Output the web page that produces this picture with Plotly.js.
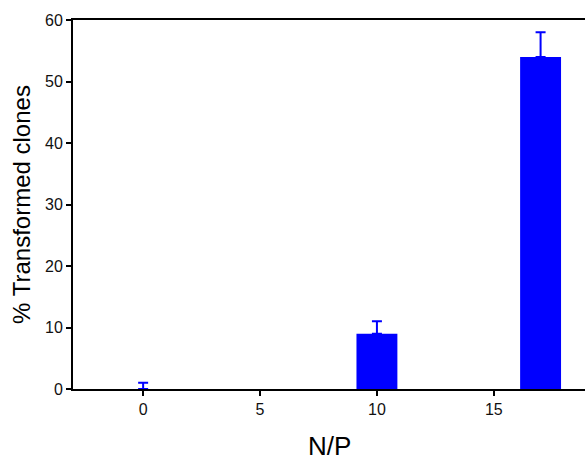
<!DOCTYPE html>
<html>
<head>
<meta charset="utf-8">
<script src="https://cdn.plot.ly/plotly-3.0.1.min.js"></script>
<style>html,body{margin:0;padding:0;background:#fff;}#chart{width:585px;height:456px;}</style>
</head>
<body>
<div id="chart"></div>
<script>
const npRatio = [0, 10, 17];
const transformed = [0, 9, 54];
const errorPlus = [1, 2, 4];
const xTickValues = [0, 5, 10, 15];
const xTickLabels = ['0', '5', '10', '15'];
const yTickValues = [0, 10, 20, 30, 40, 50, 60];
const xTitle = 'N/P';
const yTitle = '% Transformed clones';

const trace = {
  type: 'bar',
  x: npRatio,
  y: transformed,
  width: 1.75,
  marker: {color: '#0000FF', line: {width: 0}},
  error_y: {
    type: 'data', symmetric: false,
    array: errorPlus, arrayminus: [0, 0, 0],
    color: '#0000FF', thickness: 2, width: 5
  },
  hoverinfo: 'skip'
};

const font = {family: '"Liberation Sans", Arial, sans-serif', color: '#000'};

const layout = {
  width: 585, height: 456,
  margin: {l: 73, r: 0, t: 20, b: 67, pad: 0},
  paper_bgcolor: '#fff', plot_bgcolor: '#fff',
  showlegend: false,
  font: font,
  xaxis: {
    range: [-3, 18.9],
    tickvals: xTickValues, ticktext: xTickLabels,
    showgrid: false, zeroline: false,
    showline: true, linecolor: '#000', linewidth: 2, mirror: true,
    ticks: 'outside', ticklen: 5, tickwidth: 2, tickcolor: '#000',
    tickfont: {family: font.family, size: 16, color: '#111'}
  },
  yaxis: {
    range: [0, 60],
    tickvals: yTickValues,
    showgrid: false, zeroline: false,
    showline: true, linecolor: '#000', linewidth: 2,
    ticks: 'outside', ticklen: 5, tickwidth: 2, tickcolor: '#000',
    tickfont: {family: font.family, size: 16, color: '#111'},
    title: {text: yTitle, font: {family: font.family, size: 24, color: '#000'}, standoff: 8}
  },
  annotations: [{
    text: xTitle, showarrow: false,
    xref: 'paper', yref: 'paper', x: 0.5, y: -0.155,
    xanchor: 'center', yanchor: 'middle',
    font: {family: font.family, size: 26, color: '#000'}
  }]
};

Plotly.newPlot('chart', [trace], layout, {displayModeBar: false, staticPlot: true});
</script>
</body>
</html>
